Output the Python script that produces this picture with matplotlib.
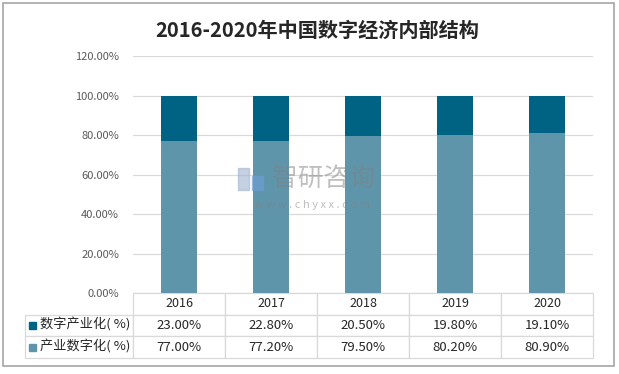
import numpy as np
import matplotlib.pyplot as plt
from matplotlib.patches import Rectangle

plt.rcParams['font.family'] = ['Noto Sans CJK SC', 'DejaVu Sans']

years = ['2016', '2017', '2018', '2019', '2020']
digital_industry = [23.00, 22.80, 20.50, 19.80, 19.10]   # 数字产业化
industry_digital = [77.00, 77.20, 79.50, 80.20, 80.90]   # 产业数字化
series_names = ['数字产业化( %)', '产业数字化( %)']
c_top = '#006384'
c_bottom = '#5f95aa'

fig = plt.figure(figsize=(6.19, 3.74), dpi=100)
# outer frame
fig.patches.append(Rectangle((3 / 619, 1 - 366 / 374), 611 / 619, 363 / 374,
                             transform=fig.transFigure, fill=False,
                             edgecolor='#a6a6a6', linewidth=1.2))

ax = fig.add_axes([133 / 619, 1 - 293 / 374, 460 / 619, 237 / 374])
x = np.arange(len(years))
ax.bar(x, industry_digital, width=0.4, color=c_bottom, zorder=3)
ax.bar(x, digital_industry, width=0.4, bottom=industry_digital, color=c_top, zorder=3)

ax.set_xlim(-0.5, len(years) - 0.5)
ax.set_ylim(0, 120)
ax.set_yticks(np.arange(0, 121, 20))
ax.set_yticklabels([f'{v:.2f}%' for v in np.arange(0, 121, 20)],
                   fontsize=8, color='#595959')
ax.set_xticks([])
ax.tick_params(axis='y', length=0, pad=10)
ax.grid(axis='y', color='#d9d9d9', linewidth=0.9, zorder=0)
for s in ax.spines.values():
    s.set_visible(False)

fig.text(0.513, 1 - 30 / 374, '2016-2020年中国数字经济内部结构',
         ha='center', va='center', fontsize=14.5, fontweight='bold', color='#262626')

# data table below the axis (first column holds the legend keys)
cell_text = [[''] + [f'{v:.2f}%' for v in digital_industry],
             [''] + [f'{v:.2f}%' for v in industry_digital]]
tb = ax.table(cellText=cell_text, colLabels=[''] + years,
              cellLoc='center', colWidths=[0.2348] + [0.2] * 5,
              bbox=[-0.2348, -0.274, 1.2348, 0.274])
tb.auto_set_font_size(False)
for (r, c), cell in tb.get_celld().items():
    cell.set_edgecolor('#d9d9d9')
    cell.set_linewidth(0.9)
    cell.get_text().set_fontsize(9 if r == 0 else 9.5)
    cell.get_text().set_color('#262626')
tb[0, 0].visible_edges = ''

row_y = [(293 - 325) / 237, (293 - 347) / 237]
for name, col, yy in zip(series_names, [c_top, c_bottom], row_y):
    ax.add_patch(Rectangle(((29 - 133) / 460, yy - 0.016), 7 / 460, 7 / 237,
                           transform=ax.transAxes, color=col, clip_on=False))
    ax.text((40 - 133) / 460, yy, name, transform=ax.transAxes,
            ha='left', va='center', fontsize=9.5, color='#262626')

# watermark
ax.text(0.415, 0.481, '智研咨询', transform=ax.transAxes, ha='center', va='center',
        fontsize=18.5, color='#808080', alpha=0.5, zorder=5)
ax.text(0.391, 0.371, 'w w w . c h y x x . c o m', transform=ax.transAxes,
        ha='center', va='center', fontsize=8, color='#808080', alpha=0.5, zorder=5)
ax.add_patch(Rectangle((0.228, 0.435), 0.025, 0.092, transform=ax.transAxes,
                       color='#9fb3d0', alpha=0.6, zorder=5))
ax.add_patch(Rectangle((0.258, 0.435), 0.025, 0.06, transform=ax.transAxes,
                       color='#6fa0d8', alpha=0.6, zorder=5))

fig.savefig('out.png', dpi=100)
